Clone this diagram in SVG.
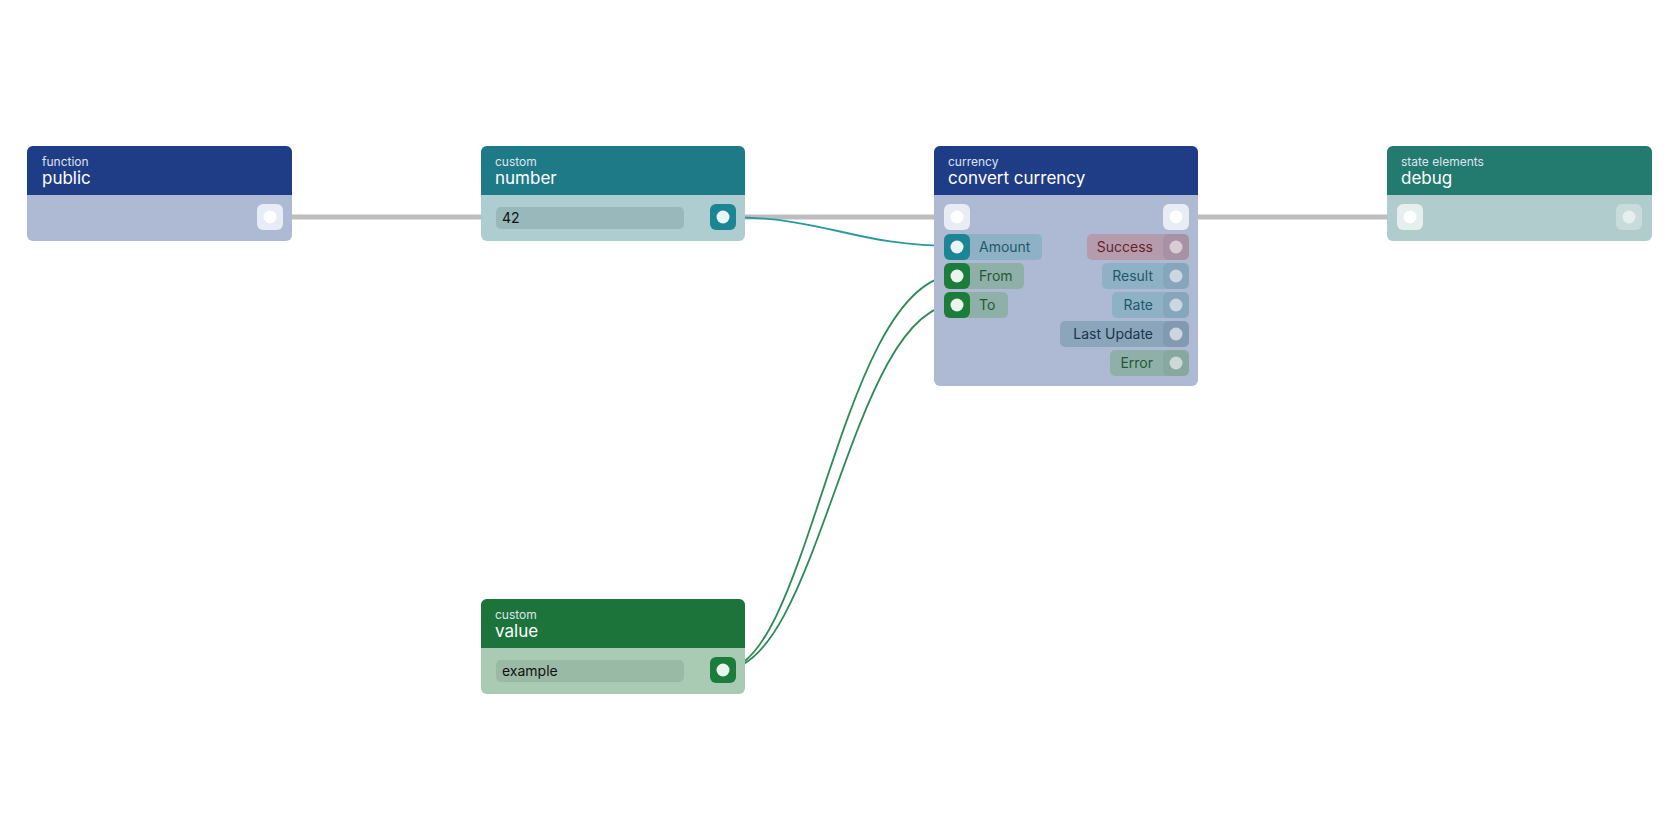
<svg xmlns="http://www.w3.org/2000/svg" width="1680" height="840" viewBox="0 0 1680 840">
<style>
text{font-family:Inter,"Noto Sans","Liberation Sans",sans-serif}
.cat{font-size:12px;fill:#dde4f0}
.ttl{font-size:17px;fill:#ffffff}
.lbl{font-size:14px}
.dot{fill:#ffffff}
</style>
<rect width="1680" height="840" fill="#ffffff"/>
<g id="connectors" fill="none">
<path d="M270 217H481M745 217H934M1198 217H1387" stroke="#bdbdbd" stroke-width="5"/>
<path d="M723 217C830 217 850 246 957 246" stroke="#2a9aa0" stroke-width="1.8"/>
<path d="M723 670C810 670 840 275 957 275" stroke="#2e8b57" stroke-width="1.8"/>
<path d="M723 670C820 670 850 304 957 304" stroke="#2e8b57" stroke-width="1.8"/>
</g>
<g id="public">
<rect x="27" y="146" width="265" height="95" rx="6" fill="#aebad3"/>
<path d="M27 195V152a6 6 0 0 1 6-6h253a6 6 0 0 1 6 6V195Z" fill="#1f3d87"/>
<text x="42" y="166" class="cat">function</text><text x="42" y="184" class="ttl">public</text>
<rect x="257" y="204" width="26" height="26" rx="6" fill="#e8ecf4"/><circle cx="270" cy="217" r="6.5" class="dot"/>
</g>
<g id="number">
<rect x="481" y="146" width="264" height="95" rx="6" fill="#adcdd0"/>
<path d="M481 195V152a6 6 0 0 1 6-6h252a6 6 0 0 1 6 6V195Z" fill="#1f7a87"/>
<text x="495" y="166" class="cat">custom</text><text x="495" y="184" class="ttl">number</text>
<rect x="496" y="207" width="188" height="22" rx="5" fill="#99b8bb"/>
<text x="502" y="223" class="lbl" fill="#111">42</text>
<rect x="710" y="204" width="26" height="26" rx="6" fill="#1b8594"/><circle cx="723" cy="217" r="6.5" fill="#e8f4f6"/>
</g>
<g id="value">
<rect x="481" y="599" width="264" height="95" rx="6" fill="#a9cbb4"/>
<path d="M481 648V605a6 6 0 0 1 6-6h252a6 6 0 0 1 6 6V648Z" fill="#1c743a"/>
<text x="495" y="619" class="cat">custom</text><text x="495" y="637" class="ttl">value</text>
<rect x="496" y="660" width="188" height="22" rx="5" fill="#9bbaa5"/>
<text x="502" y="676" class="lbl" fill="#111">example</text>
<rect x="710" y="657" width="26" height="26" rx="6" fill="#1c7c3a"/><circle cx="723" cy="670" r="6.5" fill="#e8f4ec"/>
</g>
<g id="convert-currency">
<rect x="934" y="146" width="264" height="240" rx="6" fill="#aebad3"/>
<path d="M934 195V152a6 6 0 0 1 6-6h252a6 6 0 0 1 6 6V195Z" fill="#1f3d87"/>
<text x="948" y="166" class="cat">currency</text><text x="948" y="184" class="ttl">convert currency</text>
<rect x="944" y="204" width="26" height="26" rx="6" fill="#e8ecf4"/><circle cx="957" cy="217" r="6.5" class="dot"/>
<rect x="1163" y="204" width="26" height="26" rx="6" fill="#e8ecf4"/><circle cx="1176" cy="217" r="6.5" class="dot"/>
<rect x="944" y="234" width="98" height="26" rx="5" fill="#8fb1c6"/>
<rect x="944" y="234" width="26" height="26" rx="6" fill="#1b8594"/><circle cx="957" cy="247" r="6.5" fill="#e8f4f6"/>
<text x="979" y="252" class="lbl" fill="#1d5a6a">Amount</text>
<rect x="944" y="263" width="80" height="26" rx="5" fill="#8fb0a8"/>
<rect x="944" y="263" width="26" height="26" rx="6" fill="#1c7c3a"/><circle cx="957" cy="276" r="6.5" fill="#e8f4ec"/>
<text x="979" y="281" class="lbl" fill="#1e5a33">From</text>
<rect x="944" y="292" width="64" height="26" rx="5" fill="#8fb0a8"/>
<rect x="944" y="292" width="26" height="26" rx="6" fill="#1c7c3a"/><circle cx="957" cy="305" r="6.5" fill="#e8f4ec"/>
<text x="979" y="310" class="lbl" fill="#1e5a33">To</text>
<rect x="1087" y="234" width="102" height="26" rx="5" fill="#b59cad"/>
<rect x="1163" y="234" width="26" height="26" rx="6" fill="#a792a5"/><circle cx="1176" cy="247" r="6.5" fill="#d9ccd6"/>
<text x="1153" y="252" class="lbl" fill="#6a1f2a" text-anchor="end">Success</text>
<rect x="1102" y="263" width="87" height="26" rx="5" fill="#8fb1c6"/>
<rect x="1163" y="263" width="26" height="26" rx="6" fill="#86a6bc"/><circle cx="1176" cy="276" r="6.5" fill="#ccd7e2"/>
<text x="1153" y="281" class="lbl" fill="#1d5a6a" text-anchor="end">Result</text>
<rect x="1112" y="292" width="77" height="26" rx="5" fill="#8fb1c6"/>
<rect x="1163" y="292" width="26" height="26" rx="6" fill="#86a6bc"/><circle cx="1176" cy="305" r="6.5" fill="#ccd7e2"/>
<text x="1153" y="310" class="lbl" fill="#1d5a6a" text-anchor="end">Rate</text>
<rect x="1060" y="321" width="129" height="26" rx="5" fill="#8ba5bb"/>
<rect x="1163" y="321" width="26" height="26" rx="6" fill="#8299b2"/><circle cx="1176" cy="334" r="6.5" fill="#ccd5e0"/>
<text x="1153" y="339" class="lbl" fill="#1a3550" text-anchor="end">Last Update</text>
<rect x="1110" y="350" width="79" height="26" rx="5" fill="#8fb0a8"/>
<rect x="1163" y="350" width="26" height="26" rx="6" fill="#86a89f"/><circle cx="1176" cy="363" r="6.5" fill="#ccdad5"/>
<text x="1153" y="368" class="lbl" fill="#1e5a33" text-anchor="end">Error</text>
</g>
<g id="debug">
<rect x="1387" y="146" width="265" height="95" rx="6" fill="#b0cccc"/>
<path d="M1387 195V152a6 6 0 0 1 6-6h253a6 6 0 0 1 6 6V195Z" fill="#237a6e"/>
<text x="1401" y="166" class="cat">state elements</text><text x="1401" y="184" class="ttl">debug</text>
<rect x="1397" y="204" width="26" height="26" rx="6" fill="#e6eeee"/><circle cx="1410" cy="217" r="6.5" class="dot"/>
<rect x="1616" y="204" width="26" height="26" rx="6" fill="#c8dcdc"/><circle cx="1629" cy="217" r="6.5" fill="#e6eeee"/>
</g>
</svg>
